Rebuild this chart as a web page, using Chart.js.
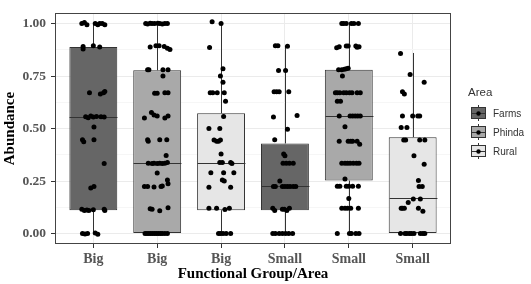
<!DOCTYPE html>
<html>
<head>
<meta charset="utf-8">
<script src="https://cdn.jsdelivr.net/npm/chart.js@4"></script>
<style>
  html, body { margin: 0; padding: 0; background: #fff; }
  #wrap { width: 531px; height: 284px; }
</style>
</head>
<body>
<div id="wrap"><canvas id="grafico" width="531" height="284"></canvas></div>
<script>
// categorias e estatisticas das caixas
const categories = ["Big", "Big", "Big", "Small", "Small", "Small"];
const areas = ["Farms", "Phinda", "Rural", "Farms", "Phinda", "Rural"];
const whiskerLow = [0, 0, 0, 0, 0, 0];
const q1 = [0.111, 0, 0.111, 0.111, 0.252, 0];
const medians = [0.556, 0.335, 0.337, 0.225, 0.56, 0.167];
const q3 = [0.889, 0.778, 0.573, 0.429, 0.78, 0.459];
const whiskerHigh = [1, 1, 1, 0.889, 1, 0.86];
const yTicks = [0, 0.25, 0.5, 0.75, 1];

// pontos (valor e deslocamento horizontal)
const bigFarmsY = [1.0, 1.005, 0.995, 1.0, 0.995, 1.0, 1.0, 0.995, 0.891, 0.879, 0.895, 0.889, 0.67, 0.664, 0.67, 0.676, 0.556, 0.552, 0.56, 0.555, 0.558, 0.556, 0.555, 0.507, 0.447, 0.437, 0.447, 0.333, 0.217, 0.224, 0.115, 0.11, 0.112, 0.11, 0.113, 0.115, 0.11, 0, -0.002, 0, 0.002, -0.003];
const bigFarmsJitter = [-0.18, -0.14, -0.10, 0.03, 0.07, 0.10, 0.14, 0.18, -0.16, -0.16, 0, 0.10, -0.06, 0.11, 0.16, 0.18, -0.12, -0.08, -0.04, 0, 0.05, 0.12, 0.17, 0.01, -0.17, -0.15, 0.01, 0.17, -0.04, 0.01, -0.18, -0.14, -0.10, -0.07, 0, 0.17, 0.18, -0.17, -0.13, -0.09, 0.03, 0.07];

const bigPhindaY = [1.0, 0.998, 1.002, 1.0, 1.0, 1.002, 1.0, 0.998, 1.0, 1.0, 0.888, 0.895, 0.895, 0.891, 0.883, 0.877, 0.78, 0.78, 0.78, 0.78, 0.75, 0.668, 0.668, 0.67, 0.67, 0.55, 0.576, 0.565, 0.56, 0.55, 0.56, 0.447, 0.44, 0.447, 0.447, 0.372, 0.335, 0.333, 0.335, 0.333, 0.335, 0.333, 0.335, 0.338, 0.288, 0.255, 0.224, 0.224, 0.222, 0.224, 0.226, 0.237, 0.118, 0.115, 0.108, 0.123, 0, 0, 0, 0, 0, 0, 0, 0, 0, 0, 0, 0];
const bigPhindaJitter = [-0.18, -0.15, -0.11, -0.08, -0.04, 0.01, 0.04, 0.08, 0.12, 0.16, -0.11, -0.02, 0.03, 0.11, 0.16, 0.20, -0.15, -0.13, 0.09, 0.17, 0.09, -0.04, 0, 0.12, 0.17, -0.2, -0.09, -0.05, 0, 0.12, 0.17, -0.15, -0.14, 0.04, 0.15, 0.14, -0.14, -0.08, -0.05, 0, 0.04, 0.08, 0.12, 0.16, 0, 0.16, -0.2, -0.15, -0.05, 0.06, 0.08, 0.17, -0.11, -0.08, 0.04, 0.17, -0.19, -0.16, -0.13, -0.10, -0.07, -0.04, -0.01, 0.02, 0.05, 0.08, 0.12, 0.16];

const bigRuralY = [1.009, 1.0, 0.886, 0.785, 0.75, 0.72, 0.67, 0.67, 0.67, 0.67, 0.63, 0.557, 0.5, 0.5, 0.445, 0.44, 0.44, 0.445, 0.379, 0.338, 0.338, 0.338, 0.333, 0.29, 0.29, 0.29, 0.255, 0.25, 0.22, 0.22, 0.12, 0.12, 0.114, 0.12, 0, 0, 0, 0, 0];
const bigRuralJitter = [-0.14, 0, -0.18, 0.03, -0.01, 0.03, -0.17, -0.13, -0.06, 0.05, 0.07, 0.04, -0.19, -0.02, -0.11, -0.07, -0.04, -0.01, 0, -0.02, 0.02, 0.15, 0.17, -0.16, 0.04, 0.2, 0.02, 0.05, -0.19, 0.15, -0.19, -0.07, 0.06, 0.13, -0.04, -0.01, 0.03, 0.08, 0.15];

const smallFarmsY = [0.895, 0.895, 0.892, 0.777, 0.777, 0.675, 0.675, 0.675, 0.675, 0.555, 0.562, 0.497, 0.447, 0.379, 0.37, 0.335, 0.335, 0.335, 0.335, 0.25, 0.224, 0.224, 0.224, 0.224, 0.224, 0.224, 0.224, 0.224, 0.12, 0.11, 0.115, 0.115, 0.11, 0.12, 0, 0, 0, 0, 0, 0, 0];
const smallFarmsJitter = [-0.15, -0.11, 0.04, -0.10, 0.01, -0.17, -0.13, -0.09, 0.06, -0.18, 0.19, 0.04, -0.16, -0.02, 0, -0.03, 0.02, 0.07, 0.13, -0.08, -0.18, -0.15, -0.04, 0, 0.04, 0.08, 0.13, 0.17, -0.19, -0.16, -0.04, -0.01, 0.03, 0.07, -0.19, -0.15, -0.09, -0.04, 0.01, 0.06, 0.12];

const smallPhindaY = [1.0, 1.0, 1.0, 1.0, 1.0, 1.0, 0.885, 0.89, 0.893, 0.893, 0.893, 0.887, 0.89, 0.78, 0.78, 0.783, 0.785, 0.787, 0.75, 0.67, 0.67, 0.67, 0.67, 0.67, 0.67, 0.67, 0.67, 0.67, 0.63, 0.63, 0.56, 0.56, 0.56, 0.56, 0.56, 0.56, 0.508, 0.44, 0.44, 0.44, 0.44, 0.44, 0.425, 0.335, 0.335, 0.335, 0.335, 0.335, 0.335, 0.335, 0.26, 0.225, 0.225, 0.225, 0.225, 0.225, 0.225, 0.167, 0.12, 0.12, 0.12, 0.12, 0.12, 0, 0, 0, 0, 0];
const smallPhindaJitter = [-0.11, -0.08, -0.04, 0.04, 0.08, 0.15, -0.19, -0.15, -0.04, -0.01, 0.11, 0.13, 0.16, -0.16, -0.11, -0.07, -0.04, -0.01, -0.10, -0.21, -0.18, -0.14, -0.08, -0.04, 0.01, 0.05, 0.13, 0.18, -0.18, -0.13, -0.15, 0.02, 0.06, 0.1, 0.14, 0.18, -0.06, -0.15, -0.01, 0.03, 0.06, 0.13, 0.17, -0.11, -0.06, -0.02, 0.02, 0.07, 0.12, 0.16, -0.06, -0.18, -0.14, -0.04, 0, 0.06, 0.15, 0, -0.11, -0.06, -0.02, 0.03, 0.15, -0.18, 0.01, 0.04, 0.11, 0.16];

const smallRuralY = [0.858, 0.758, 0.72, 0.675, 0.665, 0.56, 0.56, 0.56, 0.56, 0.505, 0.505, 0.445, 0.445, 0.445, 0.445, 0.371, 0.33, 0.252, 0.224, 0.224, 0.164, 0.164, 0.148, 0.12, 0.12, 0.12, 0.12, 0.106, 0, 0, 0, 0, 0, 0, 0, 0, 0];
const smallRuralJitter = [-0.19, -0.04, 0.18, -0.16, -0.13, -0.16, 0, 0.08, 0.11, -0.18, -0.09, -0.14, -0.11, 0.11, 0.19, 0.02, 0.18, 0.09, 0.10, 0.15, 0.01, 0.12, -0.07, -0.18, -0.16, -0.13, 0.09, 0.16, -0.19, -0.12, -0.09, -0.05, -0.02, 0.02, 0.12, 0.16, 0.19];

const gruposY = [bigFarmsY, bigPhindaY, bigRuralY, smallFarmsY, smallPhindaY, smallRuralY];
const gruposJitter = [bigFarmsJitter, bigPhindaJitter, bigRuralJitter, smallFarmsJitter, smallPhindaJitter, smallRuralJitter];

const corArea = { Farms: "#666666", Phinda: "#a9a9a9", Rural: "#e6e6e6" };
const serif = "'Liberation Serif', 'Times New Roman', serif";
const sans = "'Liberation Sans', Arial, sans-serif";

const pontos = [];
gruposY.forEach((ys, g) => {
    ys.forEach((v, i) => pontos.push({ x: g + 1 + gruposJitter[g][i], y: v }));
});

const caixas = categories.map((c, i) => ({ x: i + 1, y: [q1[i], q3[i]] }));

// bigodes, medianas, moldura e legenda
const boxPlugin = {
    id: "boxExtras",
    afterDatasetDraw(chart, args) {
        if (args.index !== 1) return;
        const ctx = chart.ctx;
        const xs = chart.scales.x, ys = chart.scales.y;
        const meta = args.meta;
        ctx.save();
        ctx.strokeStyle = "#333";
        ctx.lineWidth = 1;
        categories.forEach((c, i) => {
            const cx = Math.round(xs.getPixelForValue(i + 1)) + 0.5;
            const w = meta.data[i].width;
            ctx.beginPath();
            if (whiskerHigh[i] > q3[i]) {
                ctx.moveTo(cx, ys.getPixelForValue(q3[i]));
                ctx.lineTo(cx, ys.getPixelForValue(whiskerHigh[i]));
            }
            if (whiskerLow[i] < q1[i]) {
                ctx.moveTo(cx, ys.getPixelForValue(q1[i]));
                ctx.lineTo(cx, ys.getPixelForValue(whiskerLow[i]));
            }
            const my = Math.round(ys.getPixelForValue(medians[i])) + 0.5;
            ctx.moveTo(cx - w / 2, my);
            ctx.lineTo(cx + w / 2, my);
            ctx.stroke();
        });
        ctx.restore();
    },
    afterDraw(chart) {
        const ctx = chart.ctx;
        const a = chart.chartArea;
        ctx.save();
        ctx.strokeStyle = "#444";
        ctx.lineWidth = 1;
        ctx.strokeRect(Math.round(a.left) + 0.5, Math.round(a.top) + 0.5, Math.round(a.right - a.left) - 1, Math.round(a.bottom - a.top) - 1);

        // titulos dos eixos
        ctx.fillStyle = "#000";
        ctx.font = "bold 15px " + serif;
        ctx.textAlign = "center";
        ctx.textBaseline = "middle";
        ctx.fillText("Functional Group/Area", (a.left + a.right) / 2, 274);
        ctx.save();
        ctx.translate(10, (a.top + a.bottom) / 2);
        ctx.rotate(-Math.PI / 2);
        ctx.fillText("Abundance", 0, 0);
        ctx.restore();

        // legenda
        ctx.textAlign = "left";
        ctx.fillStyle = "#333";
        ctx.font = "11.5px " + sans;
        ctx.fillText("Area", 468, 93);
        ctx.font = "10px " + sans;
        ["Farms", "Phinda", "Rural"].forEach((nome, k) => {
            const yc = 113 + k * 19;
            ctx.strokeStyle = "#333";
            ctx.beginPath();
            ctx.moveTo(478.5, yc - 8);
            ctx.lineTo(478.5, yc + 8);
            ctx.stroke();
            ctx.fillStyle = corArea[nome];
            ctx.fillRect(471.5, yc - 5.5, 14, 11);
            ctx.strokeRect(471.5, yc - 5.5, 14, 11);
            ctx.beginPath();
            ctx.moveTo(471.5, yc + 0.5);
            ctx.lineTo(485.5, yc + 0.5);
            ctx.stroke();
            ctx.fillStyle = "#000";
            ctx.beginPath();
            ctx.arc(478.5, yc + 0.5, 2.2, 0, Math.PI * 2);
            ctx.fill();
            ctx.fillStyle = "#333";
            ctx.fillText(nome, 493, yc + 1);
        });
        ctx.restore();
    }
};

new Chart(document.getElementById("grafico"), {
    type: "bar",
    data: {
        datasets: [
            {
                type: "scatter",
                data: pontos,
                pointRadius: 2.5,
                pointBackgroundColor: "#000",
                pointBorderWidth: 0,
                order: 1
            },
            {
                type: "bar",
                data: caixas,
                backgroundColor: areas.map(a => corArea[a]),
                borderColor: "#333",
                borderWidth: 1,
                borderSkipped: false,
                barPercentage: 0.75,
                categoryPercentage: 1,
                grouped: false,
                order: 2
            }
        ]
    },
    options: {
        responsive: false,
        animation: false,
        events: [],
        layout: { padding: { top: 1, right: 80, left: 0, bottom: 0 } },
        plugins: { legend: { display: false }, tooltip: { enabled: false } },
        scales: {
            x: {
                type: "linear",
                min: 0.4,
                max: 6.6,
                offset: false,
                afterBuildTicks: s => { s.ticks = categories.map((c, i) => ({ value: i + 1 })); },
                afterFit: s => { s.height = 40; },
                border: { display: false },
                grid: { color: "#ebebeb", tickColor: "#333", tickLength: 4, offset: false },
                ticks: {
                    callback: v => categories[v - 1],
                    color: "#555",
                    padding: 3,
                    maxRotation: 0,
                    font: { family: serif, size: 14, weight: "bold" }
                }
            },
            y: {
                min: -0.05,
                max: 1.05,
                afterBuildTicks: s => {
                    const t = [];
                    yTicks.forEach((v, i) => {
                        t.push({ value: v });
                        if (i < yTicks.length - 1) t.push({ value: (v + yTicks[i + 1]) / 2 });
                    });
                    s.ticks = t;
                },
                afterFit: s => { s.width = 55; },
                border: { display: false },
                grid: {
                    color: c => yTicks.includes(c.tick.value) ? "#ebebeb" : "#f6f6f6",
                    tickColor: c => yTicks.includes(c.tick.value) ? "#333" : "rgba(0,0,0,0)",
                    tickLength: 4
                },
                ticks: {
                    callback: v => yTicks.includes(v) ? v.toFixed(2) : "",
                    color: "#555",
                    padding: 5,
                    font: { family: serif, size: 13.5, weight: "bold" }
                }
            }
        }
    },
    plugins: [boxPlugin]
});
</script>
</body>
</html>
